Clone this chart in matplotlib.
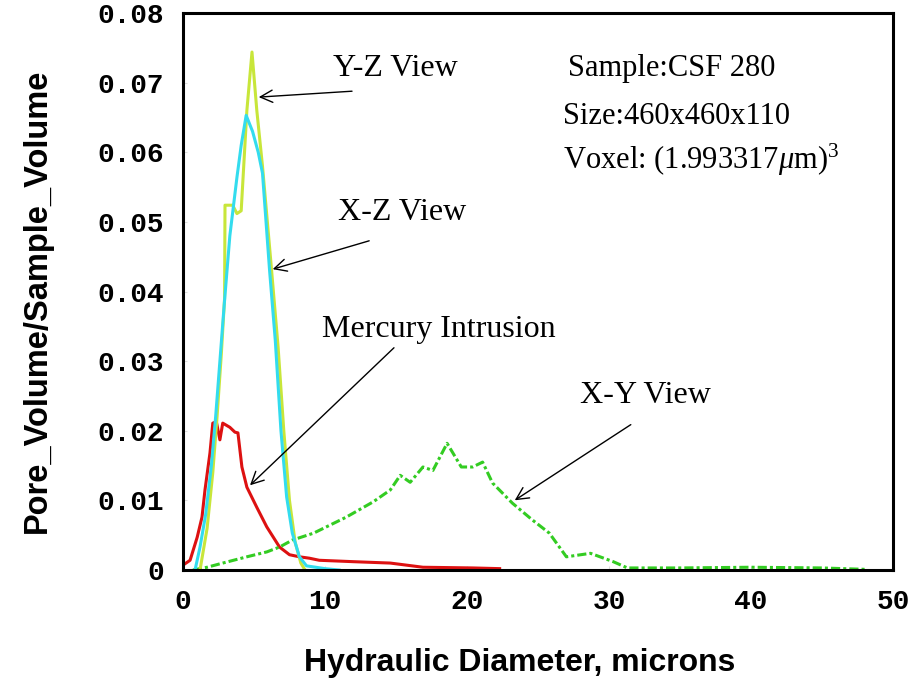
import numpy as np
import matplotlib
matplotlib.use('Agg')
import matplotlib.pyplot as plt

plt.rcParams['mathtext.fontset'] = 'custom'
plt.rcParams['mathtext.rm'] = 'Liberation Serif'
plt.rcParams['mathtext.it'] = 'Liberation Serif:italic'

# pore size distributions, hydraulic diameter in microns
mercury_x = [0, 0.5, 1.0, 1.34, 1.55, 1.9, 2.1, 2.35, 2.6, 2.8, 3.3, 3.66, 3.87, 4.15, 4.5,
             5.2, 5.9, 6.8, 7.5, 8.2, 8.9, 9.6, 12.0, 14.6, 16.9, 20.4, 22.3]
mercury_y = [0.0007, 0.0014, 0.0047, 0.0076, 0.0115, 0.0168, 0.0211, 0.0213, 0.0187, 0.0211,
             0.0205, 0.0198, 0.0197, 0.0148, 0.0119, 0.0090, 0.0062, 0.0033, 0.0022, 0.0019,
             0.0017, 0.0014, 0.0012, 0.0010, 0.0004, 0.0003, 0.0002]

yz_x = [1.2, 1.7, 2.1, 2.4, 2.7, 2.93, 2.96, 3.5, 3.8, 4.1, 4.5, 4.86, 5.2, 5.6, 6.2, 6.7,
        7.1, 7.5, 7.9, 8.3, 8.6]
yz_y = [0, 0.006, 0.014, 0.022, 0.031, 0.039, 0.0524, 0.0524, 0.0512, 0.0516, 0.066, 0.0744,
        0.066, 0.058, 0.044, 0.032, 0.020, 0.010, 0.004, 0.001, 0]

xz_x = [0.85, 1.2, 1.6, 2.0, 2.3, 2.6, 2.9, 3.3, 3.8, 4.1, 4.45, 4.9, 5.3, 5.6, 6.1, 6.5,
        6.9, 7.3, 7.7, 8.2, 8.7, 10.0, 11.0]
xz_y = [0, 0.0033, 0.008, 0.015, 0.022, 0.030, 0.038, 0.048, 0.0564, 0.061, 0.0653, 0.063,
        0.060, 0.057, 0.043, 0.033, 0.020, 0.0105, 0.0053, 0.0019, 0.0006, 0.0002, 0]

xy_x = [0.7, 1.7, 2.8, 4.5, 5.9, 6.8, 7.7, 9.2, 11.5, 13.4, 14.6, 15.3, 16.0, 16.9, 17.6,
        18.6, 19.6, 20.4, 21.1, 21.8, 23.2, 24.6, 25.8, 27.0, 28.7, 30.3, 31.3, 35, 40, 45, 48]
xy_y = [0, 0.0004, 0.001, 0.0019, 0.0026, 0.0033, 0.0043, 0.0053, 0.0076, 0.0098, 0.0115,
        0.0136, 0.0126, 0.0148, 0.0143, 0.0182, 0.0148, 0.0148, 0.0155, 0.0125, 0.0096,
        0.0072, 0.0053, 0.0019, 0.0024, 0.0012, 0.0003, 0.0003, 0.0004, 0.0003, 0.0001]

xticks = [0, 10, 20, 30, 40, 50]
yticks = [0, 0.01, 0.02, 0.03, 0.04, 0.05, 0.06, 0.07, 0.08]
ytick_labels = ['0', '0.01', '0.02', '0.03', '0.04', '0.05', '0.06', '0.07', '0.08']

fig = plt.figure(figsize=(9.19, 6.83), dpi=100)
ax = fig.add_axes([0.1991, 0.1654, 0.7726, 0.8155])

ax.plot(mercury_x, mercury_y, color='#dd1111', lw=2.2)
ax.plot(xy_x, xy_y, color='#33cc22', lw=2.2, ls=(0, (3, 1, 1, 1)))
ax.plot(yz_x, yz_y, color='#c8e63a', lw=2.2)
ax.plot(xz_x, xz_y, color='#33dcee', lw=2.2)

ax.set_xlim(0, 50)
ax.set_ylim(0, 0.08)
ax.set_xticks(xticks)
ax.set_xticklabels([str(t) for t in xticks], fontfamily='Liberation Mono',
                   fontweight='bold', fontsize=20)
ax.set_yticks(yticks)
ax.set_yticklabels(ytick_labels, fontfamily='Liberation Mono', fontweight='bold', fontsize=20)
ax.tick_params(direction='in', length=3, color='#dddddd', pad=14)
for s in ax.spines.values():
    s.set_linewidth(2.2)

fig.text(0.566, 0.029, 'Hydraulic Diameter, microns', ha='center', va='center',
         fontfamily='Liberation Sans', fontweight='bold', fontsize=23)
fig.text(0.041, 0.56, 'Pore_Volume/Sample_Volume', ha='center', va='center', rotation=90,
         fontfamily='Liberation Sans', fontweight='bold', fontsize=23.5)

arrow = dict(arrowstyle='->', lw=1.0, color='black', mutation_scale=22)
serif = dict(fontfamily='Liberation Serif', fontsize=23, va='center', ha='left')
info = dict(fontfamily='Liberation Serif', fontsize=22, va='center', ha='left')

ax.text(10.56, 0.0721, 'Y-Z View', **serif)
ax.annotate('', xy=(5.14, 0.0679), xytext=(12.1, 0.0688), arrowprops=arrow)
ax.text(10.9, 0.0514, 'X-Z View', **serif)
ax.annotate('', xy=(6.13, 0.0431), xytext=(13.3, 0.0474), arrowprops=arrow)
ax.text(9.8, 0.0345, 'Mercury Intrusion', **serif)
ax.annotate('', xy=(4.58, 0.0119), xytext=(15.0, 0.0322), arrowprops=arrow)
ax.text(27.96, 0.0251, 'X-Y View', **serif)
ax.annotate('', xy=(23.2, 0.0098), xytext=(31.7, 0.0211), arrowprops=arrow)

ax.text(27.1, 0.0721, 'Sample:CSF 280', **info)
ax.text(26.76, 0.0652, 'Size:460x460x110', **info)
ax.text(26.76, 0.0589, 'Voxel: (1.993317$\\mu$m)$^3$', **info)

fig.savefig('out.png', dpi=100)
